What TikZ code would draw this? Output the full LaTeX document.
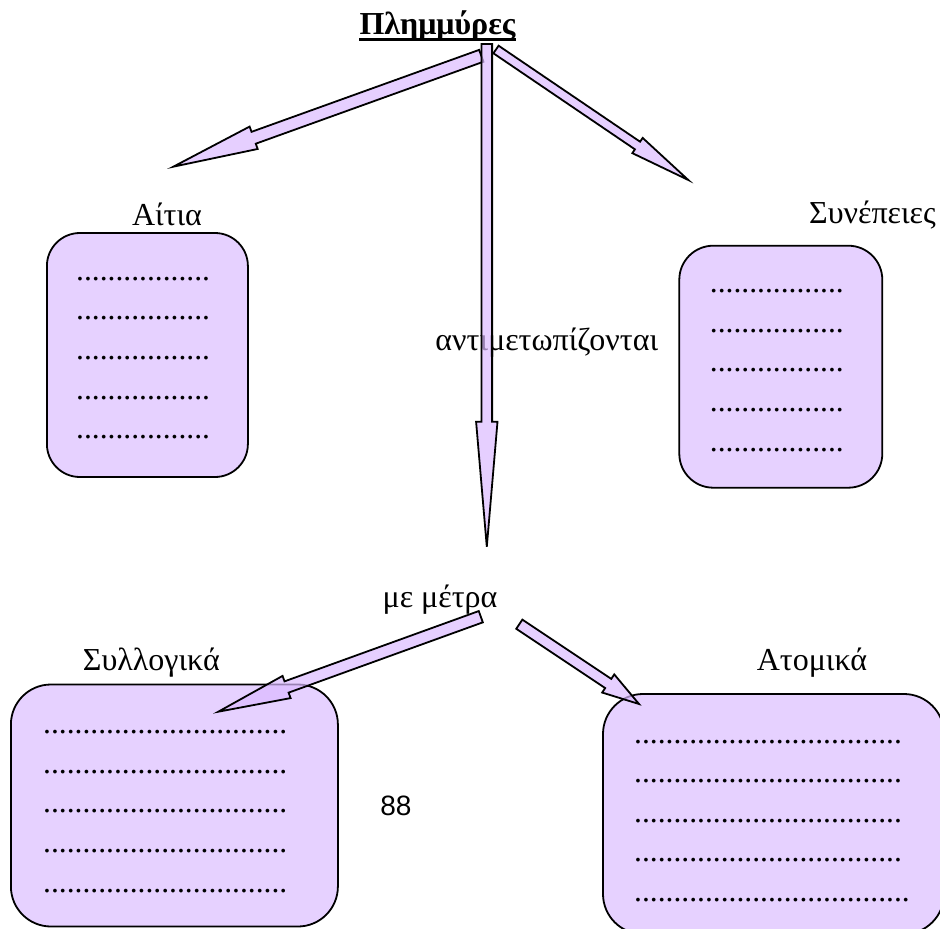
\documentclass[tikz,border=0pt]{standalone}
\usepackage{fontspec}
\setmainfont{Liberation Serif}
\newfontfamily\pagefont{Liberation Sans}
\usetikzlibrary{calc}

\definecolor{boxlav}{RGB}{230,209,255}
\definecolor{arrowlav}{RGB}{219,186,255}

\newcommand{\dotrow}[1]{\foreach \dotidx in {1,...,#1}{.}}
% tail, tip, shaft half width, head half width, head length
\newcommand{\blockarrow}[5]{%
  \coordinate (#2_base) at ($(#2)!#5!(#1)$);
  \draw [block_arrow] ($(#1)!#3!90:(#2)$) -- ($(#2_base)!#3!90:(#2)$) -- ($(#2_base)!#4!90:(#2)$) -- (#2)
    -- ($(#2_base)!#4!-90:(#2)$) -- ($(#2_base)!#3!-90:(#2)$) -- ($(#1)!#3!-90:(#2)$) -- cycle;
}

\begin{document}
\begin{tikzpicture}[
        x=1pt, y=-1pt,
        heading_node/.style={inner sep=0, anchor=base, font=\bfseries\fontsize{32}{38}\selectfont},
        topic_node/.style={inner sep=0, anchor=base, font=\fontsize{32}{38}\selectfont},
        box_node/.style={draw, rectangle, line width=1.8pt, fill=boxlav},
        dots_node/.style={inner sep=0, anchor=west, align=left, font=\fontsize{31.5}{39.6}\selectfont},
        block_arrow/.style={draw=black, line width=1.8pt, fill=arrowlav, fill opacity=0.7, line join=miter}
    ]
        \useasboundingbox (0,0) rectangle (940,929);
        \clip (0,0) rectangle (940,929);

        % Boxes
        \node (aitia_box) [box_node, minimum width=201pt, minimum height=244pt, rounded corners=33pt] at (147.4,355) {};
        \node (synepeies_box) [box_node, minimum width=203pt, minimum height=242pt, rounded corners=34pt] at (780.8,366.7) {};
        \node (syllogika_box) [box_node, minimum width=327pt, minimum height=242pt, rounded corners=40pt] at (174.4,805.5) {};
        \node (atomika_box) [box_node, minimum width=341pt, minimum height=240pt, rounded corners=40pt] at (773.5,814) {};

        \node (aitia_dots) [dots_node] at (76,358) {\dotrow{17}\\\dotrow{17}\\\dotrow{17}\\\dotrow{17}\\\dotrow{17}};
        \node (synepeies_dots) [dots_node] at (709.7,370.5) {\dotrow{17}\\\dotrow{17}\\\dotrow{17}\\\dotrow{17}\\\dotrow{17}};
        \node (syllogika_dots) [dots_node] at (43,811.5) {\dotrow{31}\\\dotrow{31}\\\dotrow{31}\\\dotrow{31}\\\dotrow{31}};
        \node (atomika_dots) [dots_node] at (634,820.9) {\dotrow{34}\\\dotrow{34}\\\dotrow{34}\\\dotrow{34}\\\dotrow{35}};

        % Texts
        \node (floods) [heading_node] at (437.5,34) {Πλημμύρες};
        \draw [line width=3pt] ([yshift=-5.5pt]floods.base west) -- ([yshift=-5.5pt]floods.base east);
        \node (aitia) [topic_node] at (167,225) {Αίτια};
        \node (synepeies) [topic_node] at (872.5,223.3) {Συνέπειες};
        \node (faced) [topic_node] at (546.8,350) {αντιμετωπίζονται};
        \node (measures) [topic_node] at (440,607) {με μέτρα};
        \node (syllogika) [topic_node] at (151.4,670.7) {Συλλογικά};
        \node (atomika) [topic_node] at (812,670) {Ατομικά};
        \node (page_no) [topic_node, font=\pagefont\fontsize{28}{34}\selectfont] at (396,815) {88};

        % Arrows
        \coordinate (causes_tail) at (481.3,55.8);
        \coordinate (causes_tip) at (173.3,166.7);
        \coordinate (faced_tail) at (486.8,44);
        \coordinate (faced_tip) at (486.8,546.7);
        \coordinate (effects_tail) at (496,49.5);
        \coordinate (effects_tip) at (688.3,180);
        \coordinate (collective_tail) at (480.8,616.7);
        \coordinate (collective_tip) at (218.3,711.7);
        \coordinate (personal_tail) at (519.3,624.2);
        \coordinate (personal_tip) at (639,704);

        \blockarrow{causes_tail}{causes_tip}{6.3pt}{11.9pt}{85.4pt}
        \blockarrow{faced_tail}{faced_tip}{5.3pt}{10.7pt}{125pt}
        \blockarrow{effects_tail}{effects_tip}{4.6pt}{9.2pt}{61.4pt}
        \blockarrow{collective_tail}{collective_tip}{6pt}{11.8pt}{72.6pt}
        \blockarrow{personal_tail}{personal_tip}{5.5pt}{10.9pt}{37pt}
    \end{tikzpicture}
\end{document}
